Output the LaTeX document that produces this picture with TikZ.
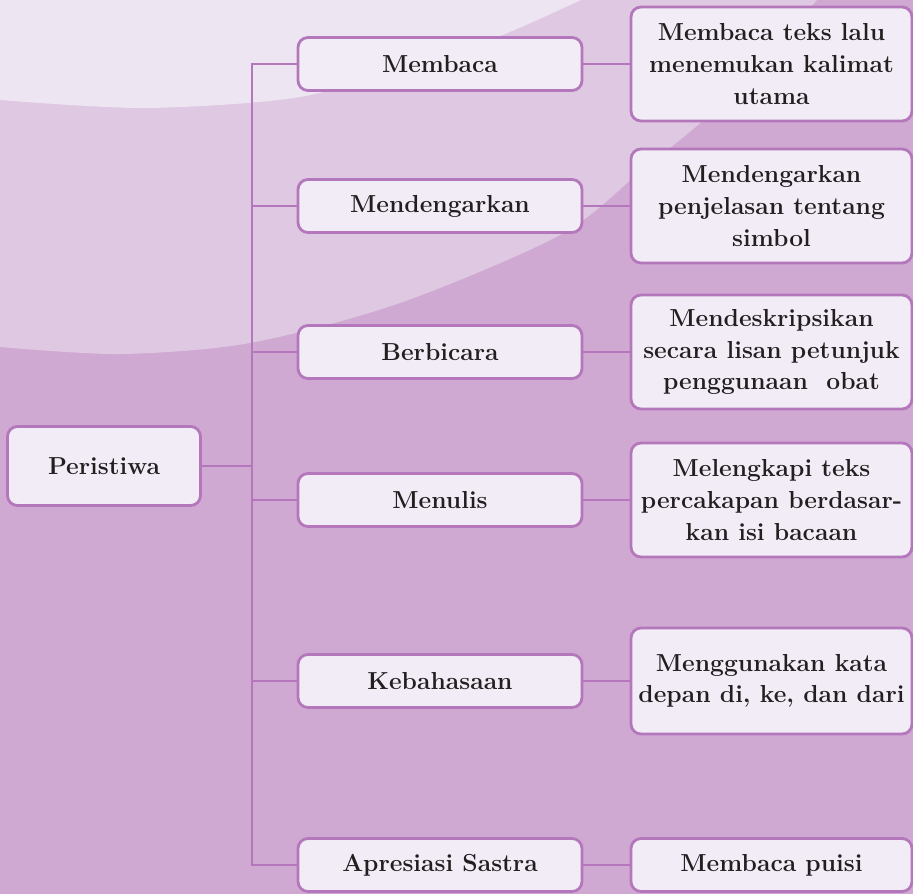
\documentclass[tikz,border=0pt]{standalone}
\usepackage{tikz}

\definecolor{bgmain}{HTML}{CFA9D2}
\definecolor{bgmid}{HTML}{DEC8E2}
\definecolor{bglight}{HTML}{EEE5F2}
\definecolor{boxfill}{HTML}{F2ECF6}
\definecolor{boxline}{HTML}{B577BC}
\definecolor{ink}{HTML}{231F20}

\begin{document}
\begin{tikzpicture}[x=0.5pt, y=-0.5pt,
	box/.style={draw=boxline, fill=boxfill, line width=1.4pt, rounded corners=5pt, align=center, text=ink, inner sep=2pt, font=\bfseries\fontsize{12.3}{15.8}\selectfont},
	topic/.style={box, minimum width=142pt, minimum height=26.5pt},
	detail/.style={box, minimum width=140.5pt, minimum height=57pt},
	link/.style={draw=boxline, line width=1.4pt}]
	% background
	\useasboundingbox (0,0) rectangle (913,894);
	\fill [bgmain] (0,0) rectangle (913,894);
	\fill [bgmid] (0,0) -- plot[smooth] coordinates {(0,347) (120,354) (250,343) (400,303) (560,235) (640,172) (720,105) (817,0)} -- cycle;
	\fill [bglight] (0,0) -- plot[smooth] coordinates {(0,100) (145,108) (300,97) (420,62) (500,36) (581,0)} -- cycle;

	\node [box, minimum width=96.5pt, minimum height=39.5pt] (peristiwa) at (104,466) {Peristiwa};

	\node [topic] (membaca) at (440,64) {Membaca};
	\node [topic] (mendengarkan) at (440,206) {Mendengarkan};
	\node [topic] (berbicara) at (440,352) {Berbicara};
	\node [topic] (menulis) at (440,500) {Menulis};
	\node [topic] (kebahasaan) at (440,681) {Kebahasaan};
	\node [topic] (apresiasi) at (440,865) {Apresiasi Sastra};

	\node [detail] (membacaD) at (771.5,64) {Membaca teks lalu \\ menemukan kalimat \\ utama};
	\node [detail] (mendengarkanD) at (771.5,206) {Mendengarkan \\ penjelasan tentang \\ simbol};
	\node [detail] (berbicaraD) at (771.5,352) {Mendeskripsikan \\ secara lisan petunjuk \\ penggunaan~ obat};
	\node [detail] (menulisD) at (771.5,500) {Melengkapi teks \\ percakapan berdasar- \\ kan isi bacaan};
	\node [detail, minimum height=53pt] (kebahasaanD) at (771.5,681) {Menggunakan kata \\ depan di, ke, dan dari};
	\node [detail, minimum height=26.5pt] (apresiasiD) at (771.5,865) {Membaca puisi};

	\coordinate (trunk) at (252,466);
	\draw [link] (peristiwa) -- (trunk);
	\draw [link] (membaca) -| (trunk) |- (apresiasi);
	\draw [link] (trunk |- mendengarkan) -- (mendengarkan);
	\draw [link] (trunk |- berbicara) -- (berbicara);
	\draw [link] (trunk |- menulis) -- (menulis);
	\draw [link] (trunk |- kebahasaan) -- (kebahasaan);

	\draw [link] (membaca) -- (membacaD);
	\draw [link] (mendengarkan) -- (mendengarkanD);
	\draw [link] (berbicara) -- (berbicaraD);
	\draw [link] (menulis) -- (menulisD);
	\draw [link] (kebahasaan) -- (kebahasaanD);
	\draw [link] (apresiasi) -- (apresiasiD);
\end{tikzpicture}
\end{document}
